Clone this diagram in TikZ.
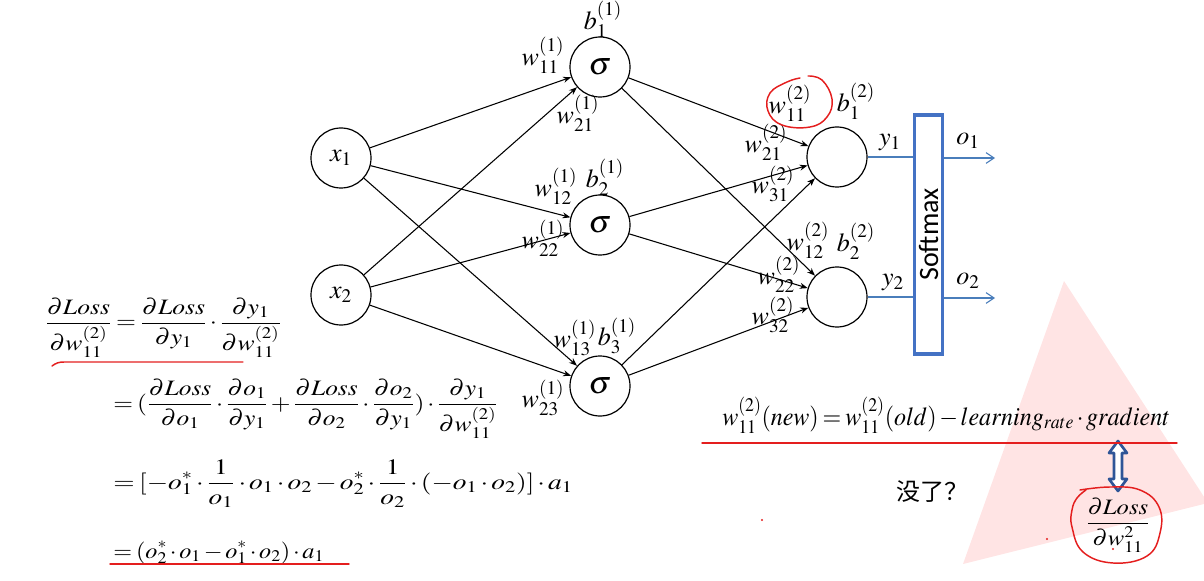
\documentclass[tikz,border=0pt]{standalone}
\usepackage{mathptmx}
\usepackage{fontspec}
\setmainfont{Liberation Serif}
\newfontfamily\cjk{Noto Sans CJK SC}
\newfontfamily\carl{Carlito}
\usepackage{graphicx}
\usetikzlibrary{arrows.meta}
\definecolor{pbox}{RGB}{68,114,196}
\definecolor{pline}{RGB}{74,126,187}
\definecolor{darr}{RGB}{47,85,151}
\definecolor{pen}{RGB}{228,30,30}
\definecolor{tri}{RGB}{255,228,228}
\newcommand{\tight}{\medmuskip=2mu plus 1mu\thickmuskip=3mu plus 2mu}
\newcommand{\lfs}{\fontsize{16.5}{20}\selectfont\tight}
\newcommand{\nfs}{\fontsize{19.5}{23}\selectfont}
\begin{document}
\begin{tikzpicture}[x=0.75pt,y=-0.75pt,
  neuron/.style={circle,draw,line width=0.9pt,minimum size=45pt,inner sep=0pt,font=\nfs},
  lbl/.style={inner sep=0pt,font=\nfs},
  eq/.style={inner sep=0pt,font=\lfs,anchor=base west},
  conn/.style={-{Stealth[length=6pt,width=4.5pt]},line width=0.8pt},
  bline/.style={draw=pline,line width=0.8pt},
  penline/.style={draw=pen,line width=1.1pt,line cap=round}]
\useasboundingbox (0,0) rectangle (1204,581);
\begin{scope}
\clip (0,0) rectangle (1204,581);
\fill[tri] (1064,281) -- (1208,503) -- (963,564) -- cycle;
\end{scope}
% neurons
\node[neuron] (x1) at (341,158) {$x_1$};
\node[neuron] (x2) at (341,295) {$x_2$};
\node[neuron,font=\fontsize{24}{26}\selectfont] (h1) at (600,67) {$\sigma$};
\node[neuron,font=\fontsize{24}{26}\selectfont] (h2) at (600,225) {$\sigma$};
\node[neuron,font=\fontsize{24}{26}\selectfont] (h3) at (600,386) {$\sigma$};
\node[neuron] (o1) at (837,157) {};
\node[neuron] (o2) at (837,297) {};
\foreach \i in {x1,x2}{\foreach \j in {h1,h2,h3}{\draw[conn] (\i) -- (\j);}}
\foreach \i in {h1,h2,h3}{\foreach \j in {o1,o2}{\draw[conn] (\i) -- (\j);}}
% labels layer 1
\node[lbl] (b11) at (603,19) {$b_1^{(1)}$};
\node[lbl] (w111) at (543,55) {$w_{11}^{(1)}$};
\node[lbl] (w211) at (578,113) {$w_{21}^{(1)}$};
\node[lbl] (w121) at (556,186) {$w_{12}^{(1)}$};
\node[lbl] (b21) at (605,177) {$b_2^{(1)}$};
\node[lbl] (w221) at (543,238) {$w_{22}^{(1)}$};
\node[lbl] (w131) at (575,338) {$w_{13}^{(1)}$};
\node[lbl] (b31) at (617,336) {$b_3^{(1)}$};
\node[lbl] (w231) at (543,398) {$w_{23}^{(1)}$};
% labels layer 2
\node[lbl] (w112) at (790,103) {$w_{11}^{(2)}$};
\node[lbl] (b12) at (856,101) {$b_1^{(2)}$};
\node[lbl] (w212) at (766,142) {$w_{21}^{(2)}$};
\node[lbl] (w312) at (773,184) {$w_{31}^{(2)}$};
\node[lbl] (w122) at (808,240) {$w_{12}^{(2)}$};
\node[lbl] (b22) at (856,241) {$b_2^{(2)}$};
\node[lbl] (w222) at (779,274) {$w_{22}^{(2)}$};
\node[lbl] (w322) at (773,315) {$w_{32}^{(2)}$};
% softmax
\node[draw=pbox,line width=2.6pt,minimum width=21pt,minimum height=179pt,inner sep=0pt] (smax) at (928.5,234.5) {};
\node[rotate=90,font=\carl\fontsize{21}{24}\selectfont,inner sep=0pt] (stxt) at (smax.center) {Softmax};
\coordinate (e1) at (995,158);
\coordinate (e2) at (995,298);
\draw[bline] (o1.east) -- (o1.east -| smax.west);
\draw[bline] (o2.east) -- (o2.east -| smax.west);
\draw[bline,-{Straight Barb[length=6pt,width=8pt]}] (e1 -| smax.east) -- (e1);
\draw[bline,-{Straight Barb[length=6pt,width=8pt]}] (e2 -| smax.east) -- (e2);
\node[lbl] (y1) at (890,143) {$y_1$};
\node[lbl] (y2) at (893,283) {$y_2$};
\node[lbl] (lo1) at (968,141) {$o_1$};
\node[lbl] (lo2) at (968,281) {$o_2$};
% left equations
\node[eq] (eq1) at (45,329) {\scalebox{1.165}[1]{$\displaystyle \frac{\partial Loss}{\partial w_{11}^{(2)}}=\frac{\partial Loss}{\partial y_1}\cdot\frac{\partial y_1}{\partial w_{11}^{(2)}}$}};
\node[eq] (eq2) at (113,410) {\scalebox{1.155}[1]{$\displaystyle =(\frac{\partial Loss}{\partial o_1}\cdot\frac{\partial o_1}{\partial y_1}+\frac{\partial Loss}{\partial o_2}\cdot\frac{\partial o_2}{\partial y_1})\cdot\frac{\partial y_1}{\partial w_{11}^{(2)}}$}};
\node[eq] (eq3) at (113,489) {\scalebox{1.25}[1]{$\displaystyle =[-o_1^*\cdot\frac{1}{o_1}\cdot o_1\cdot o_2-o_2^*\cdot\frac{1}{o_2}\cdot(-o_1\cdot o_2)]\cdot a_1$}};
\node[eq] (eq4) at (113,558) {\scalebox{1.1}[1]{$\displaystyle =(o_2^*\cdot o_1-o_1^*\cdot o_2)\cdot a_1$}};
% right equation
\node[lbl,anchor=base west] (upd) at (722,425) {\tight\scalebox{0.925}[1]{$w_{11}^{(2)}(new)=w_{11}^{(2)}(old)-learning_{rate}\cdot gradient$}};
\node[font=\cjk\fontsize{18}{20}\selectfont,inner sep=0pt] (q) at (932,492) {没了？};
\node[inner sep=0pt,font=\lfs] (grad) at (1118,525) {\scalebox{1.12}[1]{$\displaystyle\frac{\partial Loss}{\partial w_{11}^{2}}$}};
% double arrow
\draw[draw=darr,fill=white,line width=2pt,line join=round] (1118,441) -- (1127,453) -- (1122,453) -- (1122,479) -- (1127,479) -- (1118,491) -- (1109,479) -- (1114,479) -- (1114,453) -- (1109,453) -- cycle;
% pen marks
\draw[penline] (52,366) .. controls (56,363) and (59,362) .. (64,362) -- (243,362);
\draw[penline] (110,564) -- (349,564);
\draw[penline] (702,443) -- (1177,443);
\draw[penline] plot[smooth,tension=0.7] coordinates {(808,76) (822,80) (832,99) (827,117) (810,127) (782,125) (768,111) (770,93) (787,82) (800,78)};
\draw[penline] plot[smooth,tension=0.7] coordinates {(1080,490) (1110,487) (1140,490) (1159,507) (1160,533) (1147,556) (1113,563) (1083,552) (1072,527) (1072,510) (1077,498) (1086,490)};
\fill[pen] (762,520) circle (1.2);
\fill[pen] (1047,539) circle (1.2);
\fill[pen] (1113,549) circle (1.2);
\end{tikzpicture}
\end{document}
